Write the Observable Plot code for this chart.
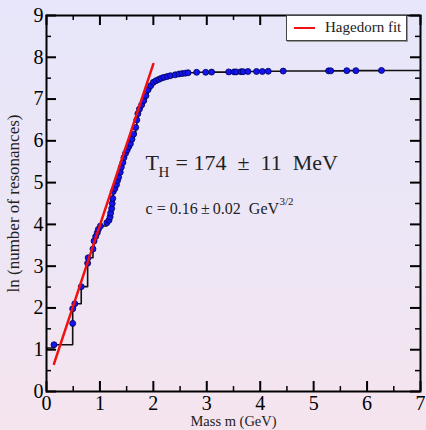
<!DOCTYPE html>
<html>
<head>
<meta charset="utf-8">
<script src="https://cdn.jsdelivr.net/npm/d3@7"></script>
<script src="https://cdn.jsdelivr.net/npm/@observablehq/plot@0.6"></script>
<style>
  html, body { margin: 0; padding: 0; }
  #wrap {
    position: relative; width: 426px; height: 430px; overflow: hidden;
    background: linear-gradient(to bottom, #e7e6fa 0%, #ece6f6 50%, #f5e4ee 100%);
    font-family: "Liberation Serif", "Times New Roman", serif;
  }
  #wrap svg { background: transparent !important; }
  #wrap svg text { white-space: pre; }
  #legend {
    position: absolute; left: 286px; top: 15px; width: 119px; height: 24px;
    background: #fff; border: 1px solid #444; box-shadow: 1px 1px 0 #999;
  }
  #legend .sw { position: absolute; left: 7px; top: 11px; width: 21px; height: 0; border-top: 2.5px solid #f01010; }
  #legend .lb { position: absolute; left: 38px; top: 3px; font-size: 15px; line-height: 17px; color: #222; white-space: nowrap; }
</style>
</head>
<body>
<div id="wrap"></div>
<script>
// Resonance masses (GeV) and ln(number of resonances)
const masses = [0.14, 0.49, 0.49, 0.53, 0.65, 0.77, 0.78, 0.87, 0.89, 0.92, 0.95, 0.97, 1.01,
  1.13, 1.17, 1.19, 1.20, 1.22, 1.23, 1.24, 1.25, 1.28, 1.31, 1.33, 1.35, 1.38, 1.40, 1.43,
  1.45, 1.48, 1.51, 1.54, 1.57, 1.60, 1.63, 1.67, 1.69, 1.71, 1.74, 1.78, 1.82, 1.86, 1.90,
  1.95, 2.00, 2.05, 2.10, 2.15, 2.20, 2.26, 2.32, 2.41, 2.48, 2.54, 2.60, 2.65, 2.81, 2.98,
  3.09, 3.41, 3.51, 3.55, 3.64, 3.68, 3.77, 3.93, 4.04, 4.15, 4.43, 5.28, 5.32, 5.62, 5.79, 6.27];
const lnN = [1.12, 1.63, 1.98, 2.10, 2.51, 3.07, 3.20, 3.41, 3.60, 3.71, 3.80, 3.88, 3.96,
  4.04, 4.10, 4.18, 4.27, 4.38, 4.50, 4.62, 4.79, 4.86, 4.95, 5.05, 5.13, 5.25, 5.37, 5.48,
  5.60, 5.70, 5.78, 5.86, 5.93, 6.04, 6.16, 6.32, 6.50, 6.65, 6.76, 6.86, 6.96, 7.08, 7.22,
  7.32, 7.40, 7.44, 7.47, 7.50, 7.52, 7.54, 7.56, 7.58, 7.60, 7.61, 7.62, 7.63, 7.64, 7.64,
  7.645, 7.65, 7.65, 7.65, 7.655, 7.655, 7.66, 7.66, 7.66, 7.665, 7.67, 7.675, 7.675, 7.68, 7.68, 7.685];
// staircase start / end
const stairStart = {m: 0, v: 1.04};
const stairEnd = {m: 7, v: 7.685};
// Hagedorn fit line endpoints
const fitMass = [0.14, 2.0];
const fitLn = [0.66, 7.84];
// tick values
const xMajor = [0, 1, 2, 3, 4, 5, 6, 7];
const xMinor = [0.5, 1.5, 2.5, 3.5, 4.5, 5.5, 6.5];
const yMajor = [0, 1, 2, 3, 4, 5, 6, 7, 8, 9];
const yMinor = [0.5, 1.5, 2.5, 3.5, 4.5, 5.5, 6.5, 7.5, 8.5];
// texts
const xLabel = "Mass m (GeV)";
const yLabel = "ln (number of resonances)";
const legendLabel = "Hagedorn fit";
const thMain = "T", thSub = "H", thRest = "= 174  \u00b1  11  MeV";
const cText = "c = 0.16\u2009\u00b1\u20090.02  GeV", cSup = "3/2";
const annoPos = {m: 1.854, thV: 5.29, cV: 4.258};

const points = masses.map((m, i) => ({m, v: lnN[i]}));
const stairs = [stairStart, ...points, stairEnd];
const fit = fitMass.map((m, i) => ({m, v: fitLn[i]}));

const W = 426, H = 430, mL = 46, mR = 6, mT = 15, mB = 39;
const pW = W - mL - mR, pH = H - mT - mB;
const font = "Liberation Serif";

const chart = Plot.plot({
  width: W, height: H,
  marginLeft: mL, marginRight: mR, marginTop: mT, marginBottom: mB,
  style: {fontFamily: font, background: "transparent", color: "black"},
  x: {domain: [0, 7]},
  y: {domain: [0, 9]},
  marks: [
    Plot.line(stairs, {x: "m", y: "v", curve: "step-after", stroke: "#111", strokeWidth: 1.6}),
    Plot.dot(points, {x: "m", y: "v", r: 3, fill: "#1414f0", stroke: "#000050", strokeWidth: 0.8}),
    Plot.line(fit, {x: "m", y: "v", stroke: "#f01010", strokeWidth: 2.5}),
    // inward ticks
    Plot.tickX(xMajor, {x: d => d, insetTop: pH - 10, strokeWidth: 2}),
    Plot.tickX(xMinor, {x: d => d, insetTop: pH - 5, strokeWidth: 1.5}),
    Plot.tickX(xMajor, {x: d => d, insetBottom: pH - 10, strokeWidth: 2}),
    Plot.tickX(xMinor, {x: d => d, insetBottom: pH - 5, strokeWidth: 1.5}),
    Plot.tickY(yMajor, {y: d => d, insetRight: pW - 10, strokeWidth: 2}),
    Plot.tickY(yMinor, {y: d => d, insetRight: pW - 5, strokeWidth: 1.5}),
    Plot.tickY(yMajor, {y: d => d, insetLeft: pW - 10, strokeWidth: 2}),
    Plot.tickY(yMinor, {y: d => d, insetLeft: pW - 5, strokeWidth: 1.5}),
    Plot.frame({stroke: "black", strokeWidth: 2}),
    Plot.axisX({ticks: xMajor, tickSize: 0, tickPadding: 4, fontSize: 20, label: null, tickFormat: d => String(d)}),
    Plot.axisY({ticks: yMajor, tickSize: 0, tickPadding: 3, fontSize: 20, label: null, tickFormat: d => String(d)}),
    Plot.text([xLabel], {frameAnchor: "bottom", textAnchor: "middle", text: d => d, dy: 34, fontSize: 14.5, fill: "#222"}),
    Plot.text([yLabel], {frameAnchor: "left", textAnchor: "middle", text: d => d, rotate: -90, dx: -33, fontSize: 17, fill: "#222"}),
    // annotations
    Plot.text([thMain], {x: () => annoPos.m, y: () => annoPos.thV, text: d => d, textAnchor: "start", lineAnchor: "bottom", fontSize: 22, fill: "#222"}),
    Plot.text([thSub], {x: () => annoPos.m, y: () => annoPos.thV, text: d => d, textAnchor: "start", lineAnchor: "bottom", dx: 13, dy: 7, fontSize: 15, fill: "#222"}),
    Plot.text([thRest], {x: () => annoPos.m, y: () => annoPos.thV, text: d => d, textAnchor: "start", lineAnchor: "bottom", dx: 30, fontSize: 22, fill: "#222"}),
    Plot.text([cText], {x: () => annoPos.m, y: () => annoPos.cV, text: d => d, textAnchor: "start", lineAnchor: "bottom", fontSize: 16, fill: "#222"}),
    Plot.text([cSup], {x: () => annoPos.m, y: () => annoPos.cV, text: d => d, textAnchor: "start", lineAnchor: "bottom", dx: 134, dy: -9, fontSize: 11, fill: "#222"})
  ]
});

const wrap = document.getElementById("wrap");
wrap.appendChild(chart);
const lg = document.createElement("div");
lg.id = "legend";
lg.innerHTML = '<div class="sw"></div><div class="lb"></div>';
lg.querySelector(".lb").textContent = legendLabel;
wrap.appendChild(lg);
</script>
</body>
</html>
